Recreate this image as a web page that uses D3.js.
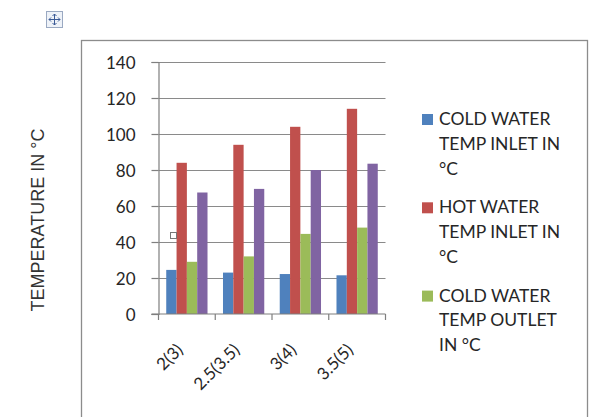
<!DOCTYPE html>
<html>
<head>
<meta charset="utf-8">
<script src="https://cdn.jsdelivr.net/npm/d3@7"></script>
<style>
  body { margin: 0; background: #fff; }
  svg { display: block; }
  .tick text, .legend text, .xlabel { font-family: Lato, "Open Sans", sans-serif; fill: #262626; }
</style>
</head>
<body>
<div id="chart"></div>
<script>
// *Chart data
const categories = ["2(3)", "2.5(3.5)", "3(4)", "3.5(5)"];
const seriesNames = [
  "COLD WATER TEMP INLET IN °C",
  "HOT WATER TEMP INLET IN °C",
  "COLD WATER TEMP OUTLET IN °C",
  "HOT WATER TEMP OUTLET IN °C",
];
const coldInlet = [24.5, 23, 22.2, 21.5];
const hotInlet = [84, 94, 104, 114];
const coldOutlet = [29, 32, 44.5, 48];
const hotOutlet = [67.5, 69.5, 80, 83.5];
const yTicks = [0, 20, 40, 60, 80, 100, 120, 140];
// legend lines as they wrap in the original (last entry is cut off there)
const legendLines = [
  ["COLD WATER", "TEMP INLET IN", "°C"],
  ["HOT WATER", "TEMP INLET IN", "°C"],
  ["COLD WATER", "TEMP OUTLET", "IN °C"],
];

const values = [coldInlet, hotInlet, coldOutlet, hotOutlet];
const color = d3
  .scaleOrdinal()
  .domain(seriesNames)
  .range(["#4f81bd", "#c0504d", "#9bbb59", "#8064a2"]);

const W = 595, H = 417;
const plot = { left: 158.5, right: 385.5, top: 62, bottom: 314 };

let svg = d3
  .select("#chart")
  .append("svg")
  .attr("width", W)
  .attr("height", H);

// *Chart border (bottom edge runs off the picture)
svg
  .append("rect")
  .attr("x", 81.5)
  .attr("y", 40.5)
  .attr("width", 506)
  .attr("height", 420)
  .attr("fill", "none")
  .attr("stroke", "#8c8c8c")
  .attr("stroke-width", 1.3);

// *Move handle icon at top left
let handle = svg.append("g").attr("transform", "translate(46,11)");
handle
  .append("rect")
  .attr("x", 0.5)
  .attr("y", 0.5)
  .attr("width", 16)
  .attr("height", 16)
  .attr("fill", "#eef2f8")
  .attr("stroke", "#9aa9c2");
handle
  .append("path")
  .attr("d", "M8.5,3 V14 M3,8.5 H14 M6.5,5 L8.5,3 L10.5,5 M6.5,12 L8.5,14 L10.5,12 M5,6.5 L3,8.5 L5,10.5 M12,6.5 L14,8.5 L12,10.5")
  .attr("fill", "none")
  .attr("stroke", "#3a5a96")
  .attr("stroke-width", 1);

// *Scales
let y = d3.scaleLinear().domain([0, 140]).range([plot.bottom, plot.top]);
let x = d3
  .scaleBand()
  .domain(categories)
  .range([plot.left, plot.right])
  .padding(0);
let xSub = d3
  .scaleBand()
  .domain(seriesNames)
  .range([0, x.bandwidth()])
  .paddingInner(0)
  .paddingOuter(0.75);

// *Gridlines
svg
  .append("g")
  .selectAll("line")
  .data(yTicks.filter((d) => d > 0))
  .enter()
  .append("line")
  .attr("x1", plot.left)
  .attr("x2", plot.right)
  .attr("y1", (d) => Math.round(y(d)) + 0.5)
  .attr("y2", (d) => Math.round(y(d)) + 0.5)
  .attr("stroke", "#8a8a8a")
  .attr("stroke-width", 1.2);

// *Bars
let groups = svg
  .append("g")
  .selectAll("g")
  .data(categories)
  .enter()
  .append("g")
  .attr("transform", (d) => "translate(" + x(d) + ",0)");

groups
  .selectAll("rect")
  .data((c, i) => seriesNames.map((s, k) => ({ s: s, v: values[k][i] })))
  .enter()
  .append("rect")
  .attr("x", (d) => xSub(d.s))
  .attr("width", xSub.bandwidth())
  .attr("y", (d) => y(d.v))
  .attr("height", (d) => y(0) - y(d.v))
  .attr("fill", (d) => color(d.s));

// *Y axis
let yAxis = svg
  .append("g")
  .attr("transform", "translate(" + plot.left + ",0)")
  .call(d3.axisLeft(y).tickValues(yTicks).tickSize(7).tickPadding(16));
yAxis.select(".domain").attr("stroke", "#7f7f7f").attr("stroke-width", 1.2);
yAxis.selectAll(".tick line").attr("stroke", "#7f7f7f").attr("stroke-width", 1.2);
yAxis
  .selectAll(".tick text")
  .style("font-size", "17px")
  .attr("dy", "0.36em");

// *X axis with ticks between categories
let xAxis = svg.append("g");
xAxis
  .append("line")
  .attr("x1", plot.left - 7)
  .attr("x2", plot.right)
  .attr("y1", plot.bottom)
  .attr("y2", plot.bottom)
  .attr("stroke", "#7f7f7f")
  .attr("stroke-width", 1.2);
xAxis
  .selectAll(".xtick")
  .data(categories.map((c) => x(c)).concat([plot.right]))
  .enter()
  .append("line")
  .attr("class", "xtick")
  .attr("x1", (d) => d)
  .attr("x2", (d) => d)
  .attr("y1", plot.bottom)
  .attr("y2", plot.bottom + 6)
  .attr("stroke", "#7f7f7f")
  .attr("stroke-width", 1.2);
xAxis
  .selectAll(".xlabel")
  .data(categories)
  .enter()
  .append("text")
  .attr("class", "xlabel")
  .attr("text-anchor", "end")
  .style("font-size", "17px")
  .attr("transform", (d) => "translate(" + (x(d) + x.bandwidth() / 2 - 3) + ",351) rotate(-45)")
  .text((d) => d);

// *Y axis title
svg
  .append("text")
  .attr("transform", "translate(44,220) rotate(-90)")
  .attr("text-anchor", "middle")
  .style("font-family", "'Liberation Sans', Arial, sans-serif")
  .style("font-size", "18px")
  .attr("fill", "#333")
  .text("TEMPERATURE IN °C");

// *Legend
let legend = svg
  .append("g")
  .attr("class", "legend")
  .selectAll("g")
  .data(legendLines)
  .enter()
  .append("g")
  .attr("transform", (d, i) => "translate(422," + (125 + i * 88.3) + ")");

legend
  .append("rect")
  .attr("x", 0)
  .attr("y", -11)
  .attr("width", 11)
  .attr("height", 11)
  .attr("fill", (d, i) => color(seriesNames[i]));

legend
  .selectAll("text")
  .data((d) => d)
  .enter()
  .append("text")
  .attr("x", 17)
  .attr("y", (d, j) => j * 24.8)
  .style("font-size", "17.5px")
  .text((d) => d);

// *Little selection box left in the plot of the original
svg
  .append("rect")
  .attr("x", 170.5)
  .attr("y", 232.5)
  .attr("width", 6)
  .attr("height", 6)
  .attr("fill", "#fff")
  .attr("stroke", "#777");
</script>
</body>
</html>
